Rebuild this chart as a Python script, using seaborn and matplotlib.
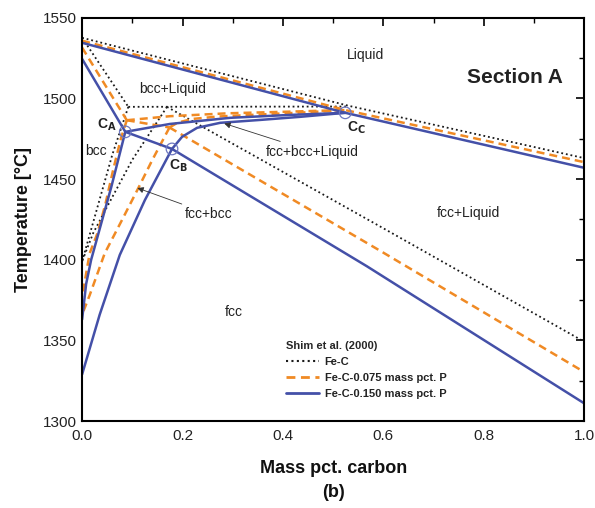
import matplotlib
matplotlib.use("Agg")
import matplotlib.pyplot as plt
from matplotlib.lines import Line2D
import numpy as np
import pandas as pd
import seaborn as sns

sns.set_theme(style="white")
plt.rcParams['font.family'] = ['Liberation Sans', 'DejaVu Sans']

series_names = ["Fe-C", "Fe-C-0.075 mass pct. P", "Fe-C-0.150 mass pct. P"]

# ---- Fe-C (Shim et al. 2000) ----
fec_liq_x = [0.0, 0.53, 1.0]
fec_liq_T = [1537.6, 1495.5, 1463.0]
fec_bccsol_x = [0.0, 0.092]
fec_bccsol_T = [1537.6, 1494.8]
fec_peri_x = [0.092, 0.53]
fec_peri_T = [1494.8, 1495.0]
fec_bccb_x = [0.092, 0.06, 0.03, 0.01, 0.0]
fec_bccb_T = [1494.8, 1465.0, 1432.0, 1410.0, 1399.0]
fec_fccb_x = [0.169, 0.10, 0.05, 0.022, 0.0]
fec_fccb_T = [1494.8, 1462.0, 1433.0, 1416.5, 1399.0]
fec_fccsol_x = [0.169, 0.6, 1.0]
fec_fccsol_T = [1494.8, 1419.5, 1349.2]

# ---- Fe-C-0.075 mass pct. P ----
p075_liq_x = [0.0, 0.524, 1.0]
p075_liq_T = [1535.8, 1492.8, 1460.5]
p075_bccsol_x = [0.0, 0.089]
p075_bccsol_T = [1531.5, 1486.5]
p075_up_x = [0.089, 0.175, 0.29, 0.41, 0.524]
p075_up_T = [1486.5, 1489.0, 1490.8, 1491.8, 1492.8]
p075_low_x = [0.174, 0.19, 0.22, 0.27, 0.35, 0.44, 0.524]
p075_low_T = [1482.0, 1485.0, 1487.3, 1488.8, 1490.0, 1491.3, 1492.8]
p075_ab_x = [0.089, 0.174]
p075_ab_T = [1486.5, 1482.0]
p075_fccsol_x = [0.174, 0.594, 1.0]
p075_fccsol_T = [1482.0, 1405.5, 1330.4]
p075_bccb_x = [0.089, 0.078, 0.062, 0.046, 0.03, 0.015, 0.0]
p075_bccb_T = [1486.5, 1476.0, 1456.0, 1434.0, 1416.0, 1404.0, 1377.0]
p075_fccb_x = [0.174, 0.14, 0.112, 0.08, 0.045, 0.015, 0.0]
p075_fccb_T = [1482.0, 1462.0, 1444.5, 1425.0, 1404.0, 1378.0, 1366.0]

# ---- Fe-C-0.150 mass pct. P ----
p150_liq_x = [0.0, 0.524, 1.0]
p150_liq_T = [1534.5, 1491.1, 1457.0]
p150_bccsol_x = [0.0, 0.086]
p150_bccsol_T = [1524.5, 1479.3]
p150_up_x = [0.086, 0.175, 0.295, 0.414, 0.524]
p150_up_T = [1479.3, 1484.2, 1488.0, 1489.8, 1491.1]
p150_low_x = [0.179, 0.199, 0.229, 0.275, 0.355, 0.434, 0.524]
p150_low_T = [1468.7, 1476.2, 1481.8, 1484.9, 1486.7, 1488.6, 1491.1]
p150_ab_x = [0.086, 0.179]
p150_ab_T = [1479.3, 1468.7]
p150_fccsol_x = [0.179, 0.567, 1.0]
p150_fccsol_T = [1468.7, 1396.0, 1311.0]
p150_bccb_x = [0.086, 0.058, 0.018, 0.008, 0.0]
p150_bccb_T = [1479.3, 1445.0, 1400.0, 1385.0, 1363.0]
p150_fccb_x = [0.179, 0.125, 0.075, 0.035, 0.0]
p150_fccb_T = [1468.7, 1437.0, 1403.0, 1366.0, 1329.0]

# invariant points C_A, C_B, C_C (0.150 P)
pt_labels = ["A", "B", "C"]
pt_x = [0.086, 0.179, 0.524]
pt_T = [1479.3, 1468.7, 1491.1]

curves = {
    series_names[0]: [(fec_liq_x, fec_liq_T), (fec_bccsol_x, fec_bccsol_T), (fec_peri_x, fec_peri_T),
                      (fec_bccb_x, fec_bccb_T), (fec_fccb_x, fec_fccb_T), (fec_fccsol_x, fec_fccsol_T)],
    series_names[1]: [(p075_liq_x, p075_liq_T), (p075_bccsol_x, p075_bccsol_T), (p075_up_x, p075_up_T),
                      (p075_low_x, p075_low_T), (p075_ab_x, p075_ab_T), (p075_fccsol_x, p075_fccsol_T),
                      (p075_bccb_x, p075_bccb_T), (p075_fccb_x, p075_fccb_T)],
    series_names[2]: [(p150_liq_x, p150_liq_T), (p150_bccsol_x, p150_bccsol_T), (p150_up_x, p150_up_T),
                      (p150_low_x, p150_low_T), (p150_ab_x, p150_ab_T), (p150_fccsol_x, p150_fccsol_T),
                      (p150_bccb_x, p150_bccb_T), (p150_fccb_x, p150_fccb_T)],
}

rows = []
for name, segs in curves.items():
    for i, (xs, ts) in enumerate(segs):
        for j, (xv, tv) in enumerate(zip(xs, ts)):
            rows.append({"x": xv, "T": tv, "series": name, "seg": f"{name}-{i}", "order": j})
df = pd.DataFrame(rows)

colors = {series_names[0]: "#1a1a1a", series_names[1]: "#f08a24", series_names[2]: "#4450a8"}
styles = {series_names[0]: (0, (1, 1.6)), series_names[1]: (0, (3.2, 2.0)), series_names[2]: "-"}
widths = {series_names[0]: 1.3, series_names[1]: 1.8, series_names[2]: 1.8}

fig = plt.figure(figsize=(5.95, 5.08), dpi=100)
ax = fig.add_axes([0.138, 0.171, 0.844, 0.794])

for name in series_names:
    sub = df[df["series"] == name]
    sns.lineplot(data=sub, x="x", y="T", units="seg", estimator=None, sort=False,
                 color=colors[name], linewidth=widths[name], ax=ax, legend=False)
    for ln in ax.lines[-sub["seg"].nunique():]:
        ln.set_linestyle(styles[name])

# small circles at the invariant points
sns.scatterplot(x=pt_x, y=pt_T, ax=ax, s=70, facecolor="none", edgecolor="#6c76c0",
                linewidth=0.9, legend=False, zorder=5)

ax.set_xlim(0, 1.0)
ax.set_ylim(1300, 1550)
ax.set_xticks(np.arange(0, 1.01, 0.2))
ax.set_xticks(np.arange(0, 1.01, 0.1), minor=True)
ax.set_yticks(np.arange(1300, 1551, 50))
ax.set_yticks(np.arange(1300, 1551, 25), minor=True)
ax.set_xticklabels(["0.0", "0.2", "0.4", "0.6", "0.8", "1.0"])
ax.tick_params(axis="both", which="both", direction="in", top=True, right=True,
               color="black", labelsize=11, labelcolor="#222222")
ax.tick_params(which="major", length=6, width=1.2)
ax.tick_params(which="minor", length=3.5, width=1.0)
ax.tick_params(axis="x", pad=6)
for sp in ax.spines.values():
    sp.set_color("black")
    sp.set_linewidth(1.5)

ax.set_xlabel("Mass pct. carbon", fontsize=13, fontweight="bold", labelpad=12, color="#111111")
ax.set_ylabel("Temperature [°C]", fontsize=13, fontweight="bold", labelpad=8, color="#111111")
fig.text(0.5 * (0.138 + 0.982), 0.030, "(b)", ha="center", va="center",
         fontsize=13, fontweight="bold", color="#111111")

tc = "#222222"
ax.text(0.564, 1527, "Liquid", ha="center", va="center", fontsize=10, color=tc)
ax.text(0.958, 1513, "Section A", ha="right", va="center", fontsize=15, fontweight="bold", color=tc)
ax.text(0.18, 1506, "bcc+Liquid", ha="center", va="center", fontsize=10, color=tc)
ax.text(0.006, 1467.5, "bcc", ha="left", va="center", fontsize=10, color=tc)
ax.text(0.77, 1429, "fcc+Liquid", ha="center", va="center", fontsize=10, color=tc)
ax.text(0.303, 1367.5, "fcc", ha="center", va="center", fontsize=10, color=tc)
ax.text(0.05, 1483.6, r"C$_\mathbf{A}$", ha="center", va="center", fontsize=10, fontweight="bold", color=tc)
ax.text(0.192, 1458.5, r"C$_\mathbf{B}$", ha="center", va="center", fontsize=10, fontweight="bold", color=tc)
ax.text(0.546, 1482, r"C$_\mathbf{C}$", ha="center", va="center", fontsize=10, fontweight="bold", color=tc)

ax.annotate("fcc+bcc+Liquid", xy=(0.283, 1484.5), xytext=(0.366, 1467),
            ha="left", va="center", fontsize=10, color=tc,
            arrowprops=dict(arrowstyle="-|>", color="#333333", lw=0.6, mutation_scale=9,
                            shrinkA=0, shrinkB=0))
ax.annotate("fcc+bcc", xy=(0.11, 1444.5), xytext=(0.205, 1428.5),
            ha="left", va="center", fontsize=10, color=tc,
            arrowprops=dict(arrowstyle="-|>", color="#333333", lw=0.6, mutation_scale=9,
                            shrinkA=0, shrinkB=0))

handles = [Line2D([0], [0], color=colors[n], linestyle=styles[n], linewidth=widths[n] + 0.2)
           for n in series_names]
leg = ax.legend(handles, series_names, title="Shim et al. (2000)", loc="lower left",
                bbox_to_anchor=(0.39, 0.035), frameon=False, fontsize=8, title_fontsize=8,
                handlelength=3.0, handletextpad=0.5, labelspacing=0.55, borderpad=0.2)
leg.get_title().set_fontweight("bold")
leg._legend_box.align = "left"
for t in leg.get_texts():
    t.set_fontweight("bold")
    t.set_color("#222222")

fig.savefig("out.png", dpi=100)
